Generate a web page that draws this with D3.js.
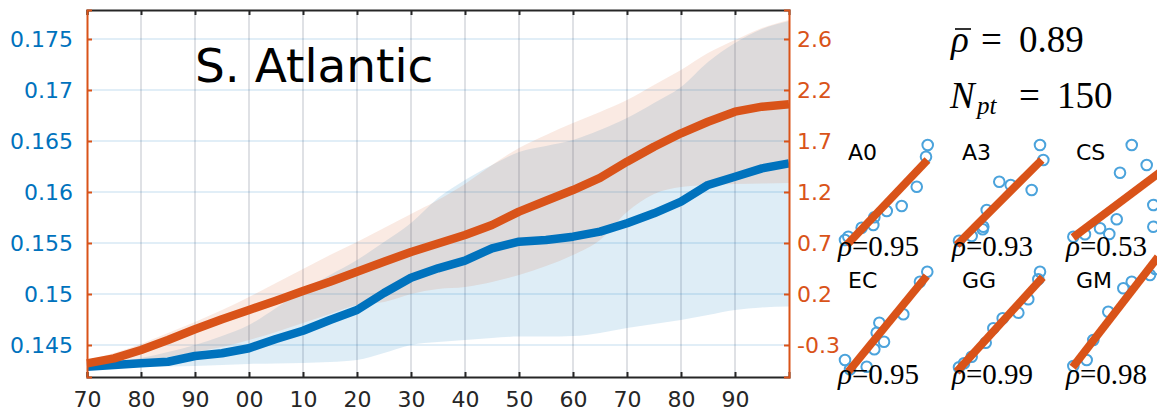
<!DOCTYPE html>
<html>
<head>
<meta charset="utf-8">
<script src="https://cdn.jsdelivr.net/npm/d3@7"></script>
<style>
  html, body { margin: 0; padding: 0; background: #fff; }
  svg { display: block; }
</style>
</head>
<body>
<svg id="chart" width="1157" height="411"></svg>
<script>
// ---- Time axis ----
const years = [1970, 1975, 1980, 1985, 1990, 1995, 2000, 2005, 2010, 2015, 2020, 2025, 2030,
               2035, 2040, 2045, 2050, 2055, 2060, 2065, 2070, 2075, 2080, 2085, 2090, 2095, 2100];

// ---- Left-axis series (blue): ensemble mean and spread ----
const blueMean = [0.14287, 0.14304, 0.14321, 0.14336, 0.14392, 0.14419, 0.14468, 0.14559, 0.14640,
                  0.14745, 0.14843, 0.15010, 0.15160, 0.15252, 0.15328, 0.15448, 0.15513, 0.15529,
                  0.15562, 0.15611, 0.15693, 0.15791, 0.15905, 0.16069, 0.16150, 0.16232, 0.16281];
const blueHigh = [0.14304, 0.14333, 0.14373, 0.14431, 0.14500, 0.14588, 0.14696, 0.14863, 0.15039,
                  0.15186, 0.15333, 0.15510, 0.15696, 0.15941, 0.16118, 0.16265, 0.16392, 0.16451,
                  0.16510, 0.16608, 0.16725, 0.16873, 0.17029, 0.17275, 0.17461, 0.17598, 0.17676];
const blueLow  = [0.14275, 0.14275, 0.14284, 0.14289, 0.14294, 0.14304, 0.14314, 0.14319, 0.14324,
                  0.14333, 0.14353, 0.14422, 0.14500, 0.14529, 0.14549, 0.14569, 0.14583, 0.14583,
                  0.14588, 0.14618, 0.14667, 0.14706, 0.14745, 0.14794, 0.14843, 0.14868, 0.14877];

// ---- Right-axis series (orange): ensemble mean and spread ----
const orangeMean = [-0.476, -0.428, -0.348, -0.252, -0.149, -0.053, 0.036, 0.126, 0.219, 0.308,
                    0.404, 0.500, 0.594, 0.675, 0.757, 0.853, 0.981, 1.086, 1.189, 1.305,
                    1.461, 1.605, 1.734, 1.845, 1.942, 1.990, 2.013];
const orangeHigh = [-0.454, -0.377, -0.290, -0.185, -0.079, 0.036, 0.161, 0.296, 0.430, 0.565,
                    0.690, 0.824, 0.959, 1.093, 1.247, 1.429, 1.593, 1.718, 1.833, 1.939,
                    2.054, 2.198, 2.342, 2.505, 2.630, 2.746, 2.823];
const orangeLow  = [-0.502, -0.483, -0.454, -0.415, -0.367, -0.319, -0.252, -0.175, -0.089, -0.002,
                    0.084, 0.113, 0.190, 0.238, 0.257, 0.305, 0.373, 0.459, 0.565, 0.709,
                    0.978, 1.151, 1.218, 1.237, 1.247, 1.252, 1.256];

// ---- Tick values and labels ----
const xTicks = [1970, 1980, 1990, 2000, 2010, 2020, 2030, 2040, 2050, 2060, 2070, 2080, 2090];
const xTickLabels = ["70", "80", "90", "00", "10", "20", "30", "40", "50", "60", "70", "80", "90"];
const leftTicks = [0.145, 0.15, 0.155, 0.16, 0.165, 0.17, 0.175];
const leftTickLabels = ["0.145", "0.15", "0.155", "0.16", "0.165", "0.17", "0.175"];
const rightTicks = [-0.3, 0.19, 0.68, 1.17, 1.66, 2.15, 2.64];
const rightTickLabels = ["-0.3", "0.2", "0.7", "1.2", "1.7", "2.2", "2.6"];

// ---- Summary statistics ----
const regionName = "S. Atlantic";
const rhoMean = "0.89";
const nPoints = "150";

// ---- Small scatter panels (normalised model vs. reference values) ----
const panelNames = ["A0", "A3", "CS", "EC", "GG", "GM"];
const panelRho = ["0.95", "0.93", "0.53", "0.95", "0.99", "0.98"];
const pointsA0 = [[0.973, 0.98], [0.953, 0.863], [0.844, 0.563], [0.667, 0.37], [0.491, 0.32],
                  [0.345, 0.257], [0.333, 0.18], [0.196, 0.153], [0.039, 0.063], [0.0, 0.03]];
const pointsA3 = [[0.953, 0.98], [0.992, 0.83], [0.474, 0.613], [0.608, 0.58], [0.855, 0.53],
                  [0.326, 0.33], [0.286, 0.163], [0.279, 0.137], [0.149, 0.07], [0.0, 0.023]];
const pointsCS = [[0.691, 0.98], [0.867, 0.78], [0.553, 0.703], [0.945, 0.38], [0.514, 0.237],
                  [0.945, 0.163], [0.318, 0.147], [0.427, 0.09], [0.141, 0.087], [0.004, 0.063]];
const pointsEC = [[0.968, 0.993], [0.882, 0.893], [0.686, 0.567], [0.404, 0.483], [0.373, 0.383],
                  [0.459, 0.293], [0.345, 0.217], [0.255, 0.043], [0.0, 0.11], [0.059, 0.017]];
const pointsGG = [[0.953, 0.993], [0.933, 0.917], [0.815, 0.717], [0.698, 0.583], [0.514, 0.527],
                  [0.404, 0.427], [0.314, 0.283], [0.149, 0.143], [0.059, 0.077], [0.0, 0.037]];
const pointsGM = [[0.97, 1.02], [0.906, 0.96], [0.691, 0.893], [0.592, 0.827], [0.415, 0.593],
                  [0.239, 0.31], [0.161, 0.11], [0.004, 0.05]];
const panelPoints = [pointsA0, pointsA3, pointsCS, pointsEC, pointsGG, pointsGM];
// regression line end points [x0, y0, x1, y1]
const panelFits = [[0.02, -0.02, 0.97, 0.83], [-0.027, -0.02, 0.973, 0.83], [0.0, 0.055, 1.1, 0.755],
                   [0.039, -0.007, 0.961, 0.95], [-0.027, -0.007, 0.985, 0.937], [-0.004, 0.037, 1.0, 1.14]];

// ---- Styling ----
const BLUE = "#0072bd", ORANGE = "#d95319", AXIS = "#262626", DOT = "#4ba3dc";
const FONT = "'DejaVu Sans', sans-serif";
const SERIF = "'Liberation Serif', 'Times New Roman', serif";

const svg = d3.select("#chart");
const W = 1157, H = 411;
const plot = { left: 87, right: 789, top: 10, bottom: 377 };

svg.append("rect").attr("width", W).attr("height", H).attr("fill", "#fff");

const x = d3.scaleLinear().domain([1970, 2100]).range([plot.left, plot.right]);
const yL = d3.scaleLinear().domain([0.141863, 0.177843]).range([plot.bottom, plot.top]);
const yR = d3.scaleLinear().domain([-0.6075, 2.9186]).range([plot.bottom, plot.top]);

svg.append("clipPath").attr("id", "plotClip")
  .append("rect").attr("x", plot.left).attr("y", plot.top)
  .attr("width", plot.right - plot.left).attr("height", plot.bottom - plot.top);

// grid
const grid = svg.append("g");
grid.selectAll("line.v").data(xTicks.slice(1)).join("line")
  .attr("x1", d => x(d)).attr("x2", d => x(d))
  .attr("y1", plot.top).attr("y2", plot.bottom)
  .attr("stroke", "rgba(40,55,80,0.2)").attr("stroke-width", 1.5);
grid.selectAll("line.h").data(leftTicks).join("line")
  .attr("x1", plot.left).attr("x2", plot.right)
  .attr("y1", d => yL(d)).attr("y2", d => yL(d))
  .attr("stroke", "rgba(0,114,189,0.16)").attr("stroke-width", 1.5);

// spread bands
const idx = d3.range(years.length);
const bands = svg.append("g").attr("clip-path", "url(#plotClip)");
bands.append("path").datum(idx)
  .attr("d", d3.area().curve(d3.curveMonotoneX)
    .x(i => x(years[i])).y0(i => yL(blueLow[i])).y1(i => yL(blueHigh[i])))
  .attr("fill", BLUE).attr("fill-opacity", 0.13);
bands.append("path").datum(idx)
  .attr("d", d3.area().curve(d3.curveMonotoneX)
    .x(i => x(years[i])).y0(i => yR(orangeLow[i])).y1(i => yR(orangeHigh[i])))
  .attr("fill", ORANGE).attr("fill-opacity", 0.12);

// mean lines
svg.append("path").datum(idx)
  .attr("d", d3.line().x(i => x(years[i])).y(i => yL(blueMean[i])))
  .attr("fill", "none").attr("stroke", BLUE).attr("stroke-width", 8.5)
  .attr("stroke-linejoin", "round");
svg.append("path").datum(idx)
  .attr("d", d3.line().x(i => x(years[i])).y(i => yR(orangeMean[i])))
  .attr("fill", "none").attr("stroke", ORANGE).attr("stroke-width", 8.5)
  .attr("stroke-linejoin", "round");

// axes
const xBottom = svg.append("g").attr("transform", `translate(0,${plot.bottom})`)
  .call(d3.axisBottom(x).tickValues(xTicks).tickSize(-5).tickPadding(14)
        .tickFormat((d, i) => xTickLabels[i]));
const xTop = svg.append("g").attr("transform", `translate(0,${plot.top})`)
  .call(d3.axisTop(x).tickValues(xTicks).tickSize(-5).tickFormat(""));
[xBottom, xTop].forEach(g => {
  g.select(".domain").attr("stroke", AXIS).attr("stroke-width", 2);
  g.selectAll(".tick line").attr("stroke", AXIS).attr("stroke-width", 2);
});
xBottom.selectAll(".tick text").attr("fill", AXIS).style("font", `22px ${FONT}`);

const yLeft = svg.append("g").attr("transform", `translate(${plot.left},0)`)
  .call(d3.axisLeft(yL).tickValues(leftTicks).tickSize(-5).tickPadding(14)
        .tickFormat((d, i) => leftTickLabels[i]));
yLeft.select(".domain").attr("stroke", ORANGE).attr("stroke-width", 2);
yLeft.selectAll(".tick line").attr("stroke", ORANGE).attr("stroke-width", 2);
yLeft.selectAll(".tick text").attr("fill", BLUE).style("font", `22px ${FONT}`);

const yRight = svg.append("g").attr("transform", `translate(${plot.right},0)`)
  .call(d3.axisRight(yR).tickValues(rightTicks).tickSize(-5).tickPadding(8)
        .tickFormat((d, i) => rightTickLabels[i]));
yRight.select(".domain").attr("stroke", ORANGE).attr("stroke-width", 2);
yRight.selectAll(".tick line").attr("stroke", ORANGE).attr("stroke-width", 2);
yRight.selectAll(".tick text").attr("fill", ORANGE).style("font", `22px ${FONT}`);

// region title
svg.append("text").attr("x", 195).attr("y", 82)
  .style("font", `47px ${FONT}`).attr("fill", "#000").text(regionName);

// summary statistics
const stats = svg.append("g").style("font-family", SERIF).attr("fill", "#000");
stats.append("text").attr("x", 951).attr("y", 52).style("font-size", "37px")
  .style("font-style", "italic").text("ρ");
stats.append("line").attr("x1", 955).attr("x2", 971).attr("y1", 29).attr("y2", 29)
  .attr("stroke", "#000").attr("stroke-width", 1.6);
stats.append("text").attr("x", 981).attr("y", 52).style("font-size", "37px").text("=");
stats.append("text").attr("x", 1019).attr("y", 52).style("font-size", "37px").text(rhoMean);

stats.append("text").attr("x", 950).attr("y", 108).style("font-size", "37px")
  .style("font-style", "italic").text("N");
stats.append("text").attr("x", 977).attr("y", 114).style("font-size", "25px")
  .style("font-style", "italic").text("pt");
stats.append("text").attr("x", 1019).attr("y", 108).style("font-size", "37px").text("=");
stats.append("text").attr("x", 1057).attr("y", 108).style("font-size", "37px").text(nPoints);

// small scatter panels
const colX = [845, 959, 1073];
const rowBottom = [243, 371];
const panelW = 85, panelH = 100;
panelNames.forEach((name, p) => {
  const c = p % 3, r = Math.floor(p / 3);
  const px = d3.scaleLinear().domain([0, 1]).range([colX[c], colX[c] + panelW]);
  const py = d3.scaleLinear().domain([0, 1]).range([rowBottom[r], rowBottom[r] - panelH]);
  const g = svg.append("g");
  g.selectAll("circle").data(panelPoints[p]).join("circle")
    .attr("cx", d => px(d[0])).attr("cy", d => py(d[1])).attr("r", 5.3)
    .attr("fill", "none").attr("stroke", DOT).attr("stroke-width", 2);
  const f = panelFits[p];
  g.append("line")
    .attr("x1", px(f[0])).attr("y1", py(f[1])).attr("x2", px(f[2])).attr("y2", py(f[3]))
    .attr("stroke", ORANGE).attr("stroke-width", 8);
  g.append("text").attr("x", colX[c] + 3).attr("y", rowBottom[r] - 83)
    .style("font", `22px ${FONT}`).attr("fill", "#000").text(name);
  const t = g.append("text").attr("x", colX[c] - 7).attr("y", rowBottom[r] + 13)
    .style("font-family", SERIF).style("font-size", "29px").attr("fill", "#000");
  t.append("tspan").style("font-style", "italic").text("ρ");
  t.append("tspan").text("=" + panelRho[p]);
});
</script>
</body>
</html>
